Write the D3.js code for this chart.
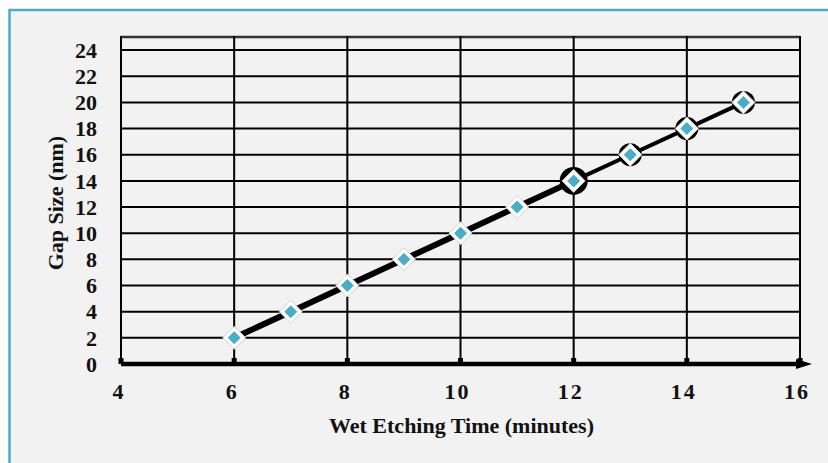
<!DOCTYPE html>
<html>
<head>
<meta charset="utf-8">
<script src="https://cdn.jsdelivr.net/npm/d3@7"></script>
<style>
  body { margin: 0; background: #fff; }
  svg { display: block; }
  .tick-label { font-family: "Liberation Serif", "Times New Roman", serif; font-weight: bold; font-size: 22px; fill: #111; }
  .axis-title { font-family: "Liberation Serif", "Times New Roman", serif; font-weight: bold; font-size: 22px; fill: #111; }
</style>
</head>
<body>
<svg id="chart"></svg>
<script>
// data
const etchTime = [6, 7, 8, 9, 10, 11, 12, 13, 14, 15];
const gapSize = [2, 4, 6, 8, 10, 12, 14, 16, 18, 20];
const xTicks = [4, 6, 8, 10, 12, 14, 16];
const yTicks = [0, 2, 4, 6, 8, 10, 12, 14, 16, 18, 20, 22, 24];
const bigHalo = [12];
const smallHalo = [13, 14, 15];

class GapChart {
    constructor(_config, _data) {
        this.config = {
            parentElement: _config.parentElement,
            containerWidth: _config.containerWidth || 828,
            containerHeight: _config.containerHeight || 463,
            margin: _config.margin || {top: 37, right: 28, bottom: 99, left: 121}
        }
        this.data = _data;
        this.initVis();
    }

    initVis() {
        let vis = this;
        vis.width = vis.config.containerWidth - vis.config.margin.left - vis.config.margin.right;
        vis.height = vis.config.containerHeight - vis.config.margin.top - vis.config.margin.bottom;

        vis.svg = d3.select(vis.config.parentElement)
            .attr('width', vis.config.containerWidth)
            .attr('height', vis.config.containerHeight);

        // panel background + blue frame (runs off right/bottom edge)
        vis.svg.append('rect')
            .attr('x', 9.5).attr('y', 10)
            .attr('width', vis.config.containerWidth + 20)
            .attr('height', vis.config.containerHeight + 20)
            .attr('fill', '#f2f2f2')
            .attr('stroke', '#4bacc6')
            .attr('stroke-width', 2.5);

        vis.chart = vis.svg.append('g')
            .attr('transform', `translate(${vis.config.margin.left},${vis.config.margin.top})`);

        vis.xScale = d3.scaleLinear().domain([4, 16]).range([0, vis.width]);
        vis.yScale = d3.scaleLinear().domain([0, 25]).range([vis.height, 0]);

        vis.renderVis();
    }

    renderVis() {
        let vis = this;
        const x = vis.xScale, y = vis.yScale;

        // horizontal grid
        vis.chart.selectAll('.hgrid')
            .data(yTicks.filter(d => d > 0).concat([25]))
            .join('line')
            .attr('class', 'hgrid')
            .attr('x1', 0).attr('x2', vis.width)
            .attr('y1', d => y(d)).attr('y2', d => y(d))
            .attr('stroke', d => d === 25 ? '#333' : '#000')
            .attr('stroke-width', d => d === 25 ? 2.5 : 2);

        // vertical grid
        vis.chart.selectAll('.vgrid')
            .data(xTicks)
            .join('line')
            .attr('class', 'vgrid')
            .attr('x1', d => x(d)).attr('x2', d => x(d))
            .attr('y1', y(25) - 1).attr('y2', y(0))
            .attr('stroke', '#000')
            .attr('stroke-width', 2);

        // x axis: thick line with arrow + small tick blocks
        vis.chart.append('line')
            .attr('x1', 0).attr('x2', vis.width + 4)
            .attr('y1', y(0)).attr('y2', y(0))
            .attr('stroke', '#000')
            .attr('stroke-width', 4.5);
        vis.chart.append('path')
            .attr('d', `M${vis.width - 4},${y(0) - 5} L${vis.width + 12},${y(0)} L${vis.width - 4},${y(0) + 5} Z`)
            .attr('fill', '#000');
        vis.chart.selectAll('.xtickmark')
            .data(xTicks)
            .join('rect')
            .attr('class', 'xtickmark')
            .attr('x', d => x(d) - 2.5)
            .attr('y', y(0) - 6)
            .attr('width', 5).attr('height', 6)
            .attr('fill', '#000');

        // tick labels
        vis.chart.selectAll('.ylab')
            .data(yTicks)
            .join('text')
            .attr('class', 'tick-label ylab')
            .attr('x', -24)
            .attr('y', d => y(d))
            .attr('dy', '0.35em')
            .attr('text-anchor', 'end')
            .text(d => d);

        vis.chart.selectAll('.xlab')
            .data(xTicks)
            .join('text')
            .attr('class', 'tick-label xlab')
            .attr('x', d => x(d) - 3)
            .attr('y', y(0) + 35)
            .attr('text-anchor', 'middle')
            .style('letter-spacing', d => d >= 10 ? '2px' : '0px')
            .text(d => d);

        // axis titles
        vis.chart.append('text')
            .attr('class', 'axis-title')
            .attr('x', x(10) + 1)
            .attr('y', y(0) + 69)
            .attr('text-anchor', 'middle')
            .text('Wet Etching Time (minutes)');

        vis.chart.append('text')
            .attr('class', 'axis-title')
            .attr('transform', `translate(${-58},${y(12.3)}) rotate(-90)`)
            .attr('text-anchor', 'middle')
            .text('Gap Size (nm)');

        // the series line (heavier on the lower part, as in the picture)
        const line = d3.line().x(d => x(d.t)).y(d => y(d.g));
        const lower = vis.data.filter(d => d.t <= 12);
        const upper = vis.data.filter(d => d.t >= 12);
        vis.chart.append('path')
            .datum(lower)
            .attr('d', line)
            .attr('fill', 'none')
            .attr('stroke', '#000')
            .attr('stroke-width', 6);
        vis.chart.append('path')
            .datum(upper)
            .attr('d', line)
            .attr('fill', 'none')
            .attr('stroke', '#000')
            .attr('stroke-width', 4);

        // halos behind some markers
        vis.chart.selectAll('.halo')
            .data(vis.data.filter(d => bigHalo.includes(d.t) || smallHalo.includes(d.t)))
            .join('circle')
            .attr('class', 'halo')
            .attr('cx', d => x(d.t)).attr('cy', d => y(d.g))
            .attr('r', d => bigHalo.includes(d.t) ? 14 : 11.5)
            .attr('fill', '#000');

        // markers: white diamond with teal diamond inside
        const diamond = r => `M0,${-r} L${r},0 L0,${r} L${-r},0 Z`;
        const marks = vis.chart.selectAll('.mark')
            .data(vis.data)
            .join('g')
            .attr('class', 'mark')
            .attr('transform', d => `translate(${x(d.t)},${y(d.g)})`);
        marks.append('path')
            .attr('d', diamond(11.5))
            .attr('fill', '#fff')
            .attr('stroke', '#d0d0d0')
            .attr('stroke-width', 1)
            .attr('stroke-linejoin', 'round');
        marks.append('path')
            .attr('d', diamond(6.5))
            .attr('fill', '#4bacc6');
    }
}

const data = etchTime.map((t, i) => ({t: t, g: gapSize[i]}));
new GapChart({parentElement: '#chart'}, data);
</script>
</body>
</html>
